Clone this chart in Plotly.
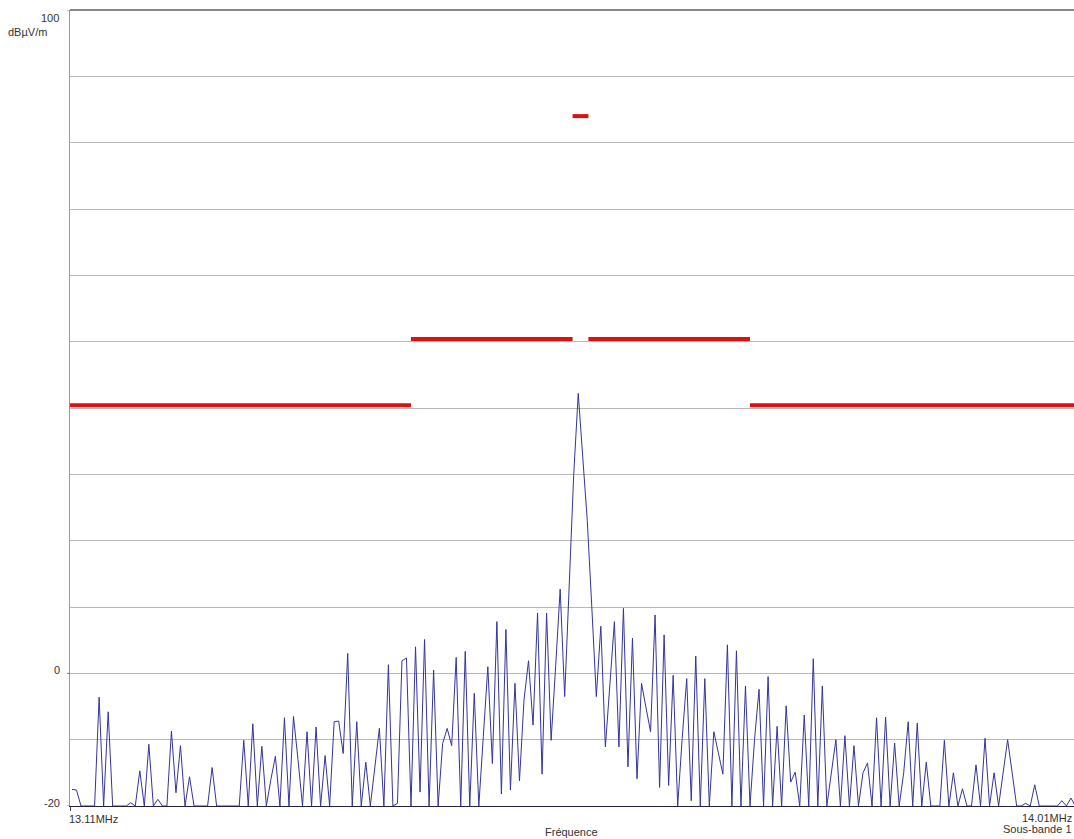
import plotly.graph_objects as go

# ---------------- data ----------------
f_start_mhz = 13.11          # first sample frequency
f_step_mhz = 0.004           # sweep step
levels_dbuv = [
    -17.5, -17.6, -20, -20, -20, -20, -3.6, -20, -5.8, -20,
    -20, -20, -20, -19.5, -20, -14.7, -20, -10.7, -20, -19,
    -20, -20, -8.7, -18, -10.9, -20, -15.6, -20, -20, -20,
    -20, -14.2, -20, -20, -20, -20, -20, -20, -10.1, -20,
    -7.6, -20, -11, -20, -16, -12.5, -20, -6.7, -20, -6.5,
    -13, -20, -8.8, -20, -8.1, -20, -12.4, -20, -7.3, -7.2,
    -12.1, 3.0, -20, -7.3, -20, -13.4, -20, -14, -8.3, -20,
    1.3, -20, -19.6, 1.9, 2.3, -20, 4.0, -17.9, 5.1, -20,
    0.5, -20, -10.6, -8.3, -10.9, 2.4, -20, 3.3, -20, -3.0,
    -20, -9.5, 1.0, -13.6, 7.8, -18.2, 6.6, -17.6, -1.5, -16.2,
    -4, 1.9, -7.8, 9.1, -15.2, 9.1, -10.1, 1, 12.7, -3.5,
    12, 30, 42.2, 33, 23, 10, -3.5, 7.1, -11.1, -1.7,
    7.8, -11.1, 9.8, -14.1, 5.3, -15.9, -1.5, -5.2, -8.8, 8.8,
    -17.2, 5.8, -16.9, -0.3, -20, -9.8, -0.8, -19.2, 2.6, -20,
    -0.8, -20, -8.8, -12, -15.2, 4.3, -20, 3.4, -20, -1.9,
    -20, -10, -2.4, -20, -0.5, -20, -8.0, -20, -4.9, -16.4,
    -14.9, -20, -6.3, -20, 2.2, -20, -1.9, -20, -15, -10,
    -20, -9.4, -20, -10.9, -20, -15, -13.5, -20, -6.7, -20,
    -6.6, -20, -10.5, -20, -15, -7.3, -20, -7.5, -20, -13.4,
    -20, -20, -20, -10.1, -20, -15, -20, -17.4, -20, -20,
    -13.8, -20, -9.8, -20, -15, -20, -15, -10, -15, -20,
    -20, -19.6, -20, -16.8, -20, -20, -20, -20, -20, -19.2,
    -20, -18.8, -20, -20,
]
freqs_mhz = [f_start_mhz + f_step_mhz * i for i in range(len(levels_dbuv))]

limit_start_mhz = [13.10, 13.41, 13.567, 13.71, 13.553]
limit_end_mhz = [13.41, 13.553, 13.71, 14.01, 13.567]
limit_level = [40.4, 50.4, 50.4, 40.4, 84.0]

y_min, y_max = -20, 100
grid_levels = [-10, 0, 10, 20, 30, 40, 50, 60, 70, 80, 90]

# ---------------- figure ----------------
W, H = 1074, 839
L, R, T, B = 70, 0, 10, 33
PX_PER_MHZ = 1130.0
x_left = 13.11 - 2.0 / PX_PER_MHZ
x_range = [x_left, x_left + (W - L - R) / PX_PER_MHZ]

fig = go.Figure()

lx, ly = [], []
for a, b, v in zip(limit_start_mhz, limit_end_mhz, limit_level):
    lx += [a, b, None]
    ly += [v, v, None]

fig.add_trace(go.Scatter(x=freqs_mhz, y=levels_dbuv, mode="lines",
                         line=dict(color="#34349c", width=1),
                         hoverinfo="skip", showlegend=False))
fig.add_trace(go.Scatter(x=lx, y=ly, mode="lines",
                         line=dict(color="#dd1010", width=4),
                         hoverinfo="skip", showlegend=False))

def px(xp):
    return (xp - L) / (W - L - R)

def py(yp):
    return (H - B - yp) / (H - T - B)

font = dict(family="Liberation Sans, Arial, sans-serif", size=11, color="#333333")
ann = []
def add(text, xp, yp, xa):
    ann.append(dict(text=text, x=px(xp), y=py(yp), xref="paper", yref="paper",
                    xanchor=xa, yanchor="middle", showarrow=False, font=font))

add("100", 61, 18, "right")
add("dBµV/m", 49, 32, "right")
add("0", 62, 670, "right")
add("-20", 62, 803, "right")
add("13.11MHz", 67, 819, "left")
add("Fréquence", 571, 832, "center")
add("14.01MHz", 1074, 818, "right")
add("Sous-bande 1", 1074, 829, "right")

shapes = [dict(type="line", xref="paper", yref="paper", x0=0, x1=1, y0=1, y1=1,
               line=dict(color="#111111", width=1))]

fig.update_layout(
    width=W, height=H, autosize=False,
    margin=dict(l=L, r=R, t=T, b=B, pad=0),
    paper_bgcolor="white", plot_bgcolor="white",
    annotations=ann, shapes=shapes,
    xaxis=dict(range=x_range, showgrid=False, zeroline=False,
               showline=True, linecolor="#222244", linewidth=1,
               tickmode="array", tickvals=[x_left], ticks="outside",
               ticklen=4, tickcolor="#444444", showticklabels=False),
    yaxis=dict(range=[y_min, y_max], showgrid=True, gridcolor="#b8b8b8",
               gridwidth=1, tickmode="array", tickvals=grid_levels,
               zeroline=False, showline=True, linecolor="#9a9a9a", linewidth=1,
               ticks="", showticklabels=False),
)
# small outward ticks on left axis at labelled levels
for v in [100, 0, -20]:
    fig.add_shape(type="line", xref="paper", yref="y", x0=-3 / (W - L - R), x1=0,
                  y0=v, y1=v, line=dict(color="#777777", width=1))

fig.write_html("out.html", config={"displayModeBar": False},
               post_script="document.body.style.margin='0px';")
